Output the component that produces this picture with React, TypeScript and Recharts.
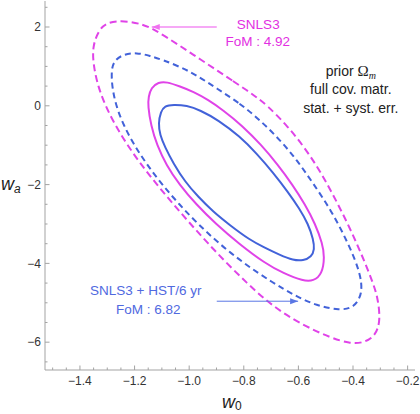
import React from 'react';
import { LineChart, Line, XAxis, YAxis, ReferenceDot } from 'recharts';

type P = { x: number; y: number };

// SNLS3 alone, outer (dashed) contour
const snlsOuter: P[] = [
  { x: -0.89, y: 0.86 }, { x: -0.84, y: 0.63 }, { x: -0.79, y: 0.4 }, { x: -0.752, y: 0.21 },
  { x: -0.716, y: 0.02 }, { x: -0.643, y: -0.49 }, { x: -0.584, y: -1.0 }, { x: -0.535, y: -1.5 },
  { x: -0.493, y: -2.0 }, { x: -0.455, y: -2.5 }, { x: -0.419, y: -3.0 }, { x: -0.386, y: -3.5 },
  { x: -0.355, y: -4.0 }, { x: -0.327, y: -4.5 }, { x: -0.31, y: -4.85 }, { x: -0.299, y: -5.44 },
  { x: -0.317, y: -5.84 }, { x: -0.362, y: -6.02 }, { x: -0.411, y: -6.04 }, { x: -0.484, y: -5.88 },
  { x: -0.57, y: -5.61 }, { x: -0.655, y: -5.27 }, { x: -0.727, y: -4.89 }, { x: -0.788, y: -4.5 },
  { x: -0.862, y: -4.0 }, { x: -0.93, y: -3.5 }, { x: -0.995, y: -3.0 }, { x: -1.058, y: -2.5 },
  { x: -1.118, y: -2.0 }, { x: -1.175, y: -1.5 }, { x: -1.226, y: -1.0 }, { x: -1.27, y: -0.5 },
  { x: -1.307, y: 0.0 }, { x: -1.334, y: 0.5 }, { x: -1.35, y: 1.0 }, { x: -1.355, y: 1.5 },
  { x: -1.33, y: 1.94 }, { x: -1.302, y: 2.1 }, { x: -1.266, y: 2.15 }, { x: -1.217, y: 2.14 },
  { x: -1.174, y: 2.07 }, { x: -1.137, y: 1.97 }, { x: -1.09, y: 1.77 }, { x: -1.04, y: 1.55 },
  { x: -0.99, y: 1.32 }, { x: -0.94, y: 1.09 },
];

// SNLS3 alone, inner (solid) contour
const snlsInner: P[] = [
  { x: -0.93, y: 0.15 }, { x: -0.878, y: -0.1 }, { x: -0.806, y: -0.5 }, { x: -0.735, y: -1.0 },
  { x: -0.675, y: -1.5 }, { x: -0.622, y: -2.0 }, { x: -0.576, y: -2.5 }, { x: -0.538, y: -3.0 },
  { x: -0.512, y: -3.5 }, { x: -0.504, y: -3.83 }, { x: -0.513, y: -4.27 }, { x: -0.545, y: -4.45 },
  { x: -0.582, y: -4.45 }, { x: -0.655, y: -4.25 }, { x: -0.722, y: -4.0 }, { x: -0.818, y: -3.5 },
  { x: -0.902, y: -3.0 }, { x: -0.975, y: -2.5 }, { x: -1.036, y: -2.0 }, { x: -1.084, y: -1.5 },
  { x: -1.118, y: -1.0 }, { x: -1.14, y: -0.5 }, { x: -1.151, y: 0.0 }, { x: -1.149, y: 0.23 },
  { x: -1.139, y: 0.46 }, { x: -1.113, y: 0.6 }, { x: -1.082, y: 0.61 }, { x: -1.034, y: 0.49 },
  { x: -0.985, y: 0.36 },
];

// SNLS3 + HST/6 yr, outer (dashed) contour
const hstOuter: P[] = [
  { x: -0.899, y: 0.44 }, { x: -0.814, y: 0.06 }, { x: -0.741, y: -0.36 }, { x: -0.667, y: -0.87 },
  { x: -0.605, y: -1.38 }, { x: -0.55, y: -1.93 }, { x: -0.481, y: -2.64 }, { x: -0.418, y: -3.48 },
  { x: -0.372, y: -4.25 }, { x: -0.365, y: -4.78 }, { x: -0.397, y: -5.13 }, { x: -0.448, y: -5.19 },
  { x: -0.533, y: -5.08 }, { x: -0.617, y: -4.8 }, { x: -0.692, y: -4.5 }, { x: -0.8, y: -4.0 },
  { x: -0.89, y: -3.5 }, { x: -0.968, y: -3.0 }, { x: -1.037, y: -2.5 }, { x: -1.099, y: -2.0 },
  { x: -1.154, y: -1.5 }, { x: -1.201, y: -1.0 }, { x: -1.24, y: -0.5 }, { x: -1.268, y: 0.0 },
  { x: -1.283, y: 0.5 }, { x: -1.285, y: 0.93 }, { x: -1.274, y: 1.15 }, { x: -1.241, y: 1.31 },
  { x: -1.192, y: 1.35 }, { x: -1.144, y: 1.27 }, { x: -1.095, y: 1.16 }, { x: -1.034, y: 0.99 },
  { x: -0.973, y: 0.78 },
];

// SNLS3 + HST/6 yr, inner (solid) contour
const hstInner: P[] = [
  { x: -0.96, y: -0.11 }, { x: -0.894, y: -0.36 }, { x: -0.814, y: -0.78 }, { x: -0.753, y: -1.21 },
  { x: -0.692, y: -1.7 }, { x: -0.637, y: -2.2 }, { x: -0.597, y: -2.6 }, { x: -0.564, y: -3.0 },
  { x: -0.545, y: -3.4 }, { x: -0.541, y: -3.65 }, { x: -0.552, y: -3.83 }, { x: -0.582, y: -3.93 },
  { x: -0.619, y: -3.92 }, { x: -0.667, y: -3.79 }, { x: -0.729, y: -3.58 }, { x: -0.777, y: -3.41 },
  { x: -0.851, y: -3.03 }, { x: -0.912, y: -2.69 }, { x: -0.967, y: -2.31 }, { x: -1.015, y: -1.93 },
  { x: -1.058, y: -1.46 }, { x: -1.089, y: -1.04 }, { x: -1.107, y: -0.74 }, { x: -1.113, y: -0.44 },
  { x: -1.104, y: -0.15 }, { x: -1.09, y: 0.0 }, { x: -1.058, y: 0.03 }, { x: -1.009, y: 0.01 },
];

const snlsArrow: P[] = [{ x: -1.137, y: 2.0 }, { x: -0.899, y: 2.0 }];
const hstArrow: P[] = [{ x: -0.899, y: -4.96 }, { x: -0.601, y: -4.96 }];

const xTicks = [
  -1.5, -1.45, -1.4, -1.35, -1.3, -1.25, -1.2, -1.15, -1.1, -1.05, -1.0, -0.95, -0.9, -0.85,
  -0.8, -0.75, -0.7, -0.65, -0.6, -0.55, -0.5, -0.45, -0.4, -0.35, -0.3, -0.25, -0.2,
];
const xLabelTicks = [-1.4, -1.2, -1.0, -0.8, -0.6, -0.4, -0.2];
const yTicks = [-6.5, -6, -5.5, -5, -4.5, -4, -3.5, -3, -2.5, -2, -1.5, -1, -0.5, 0, 0.5, 1, 1.5, 2, 2.5];
const yLabelTicks = [-6, -4, -2, 0, 2];

const snlsLabel = ['SNLS3', 'FoM : 4.92'];
const snlsLabelPos: P[] = [{ x: -0.747, y: 2.081 }, { x: -0.749, y: 1.645 }];
const hstLabel = ['SNLS3 + HST/6 yr', 'FoM : 6.82'];
const hstLabelPos: P[] = [{ x: -1.159, y: -4.67 }, { x: -1.15, y: -5.157 }];
const noteLines = ['full cov. matr.', 'stat. + syst. err.'];
const notePos: P[] = [{ x: -0.408, y: 0.883 }, { x: -0.408, y: 0.439 }, { x: -0.408, y: -0.043 }];

const FONT = '"Liberation Sans", Arial, Helvetica, sans-serif';
const MAGENTA = '#e043e8';
const BLUE = '#4262d9';
const MAGENTA_TEXT = '#e22fe2';
const BLUE_TEXT = '#5069df';
const AXIS = '#a3a3a3';
const LABEL = '#333333';

const near = (v: number, arr: number[]) => arr.some((a) => Math.abs(a - v) < 1e-6);
const fmt = (v: number, d: number) => (v < -1e-9 ? '\u2212' : '') + Math.abs(v).toFixed(d);

const BottomTick = (props: any) => {
  const { x, y, payload } = props;
  const major = near(payload.value, xLabelTicks);
  return (
    <g>
      <line x1={x} x2={x} y1={y} y2={y - (major ? 4.5 : 2.5)} stroke={AXIS} />
      {major && (
        <text x={x} y={y + 14.5} textAnchor="middle" fontSize={12} fill={LABEL} fontFamily={FONT}>
          {fmt(payload.value, 1)}
        </text>
      )}
    </g>
  );
};
const TopTick = (props: any) => {
  const { x, y, payload } = props;
  const major = near(payload.value, xLabelTicks);
  return <line x1={x} x2={x} y1={y} y2={y + (major ? 4.5 : 2.5)} stroke={AXIS} />;
};
const LeftTick = (props: any) => {
  const { x, y, payload } = props;
  const major = near(payload.value, yLabelTicks);
  return (
    <g>
      <line x1={x} x2={x + (major ? 4.5 : 2.5)} y1={y} y2={y} stroke={AXIS} />
      {major && (
        <text x={x - 4} y={y + 4.3} textAnchor="end" fontSize={12} fill={LABEL} fontFamily={FONT}>
          {fmt(payload.value, 0)}
        </text>
      )}
    </g>
  );
};
const RightTick = (props: any) => {
  const { x, y, payload } = props;
  const major = near(payload.value, yLabelTicks);
  return <line x1={x} x2={x - (major ? 4.5 : 2.5)} y1={y} y2={y} stroke={AXIS} />;
};

const XLabel = (props: any) => {
  const vb = props.viewBox || {};
  const cx = vb.x + vb.width / 2;
  return (
    <text x={cx - 8} y={vb.y + 37.5} fontFamily={FONT} fill="#222">
      <tspan fontSize={18} fontStyle="italic">w</tspan>
      <tspan fontSize={12} dy={2}>0</tspan>
    </text>
  );
};
const YLabel = (props: any) => {
  const vb = props.viewBox || {};
  const cy = vb.y + vb.height / 2;
  return (
    <text x={vb.x + 1} y={cy + 4} fontFamily={FONT} fill="#222">
      <tspan fontSize={18} fontStyle="italic">w</tspan>
      <tspan fontSize={12} fontStyle="italic" dy={3}>a</tspan>
    </text>
  );
};

const textShape = (content: React.ReactNode, color: string, size: number) => (p: any) => (
  <text x={p.cx} y={p.cy} dy="0.36em" textAnchor="middle" fontSize={size} fill={color} fontFamily={FONT}>
    {content}
  </text>
);

const arrowDot = (tipIndex: number, dir: number, color: string) => (p: any) => {
  if (p.index !== tipIndex) return <g key={`d${p.index}`} />;
  const { cx, cy } = p;
  const pts = `${cx},${cy} ${cx - dir * 8},${cy - 3} ${cx - dir * 8},${cy + 3}`;
  return <polygon key={`d${p.index}`} points={pts} fill={color} stroke="none" />;
};

export default function App() {
  return (
    <div style={{ position: 'absolute', left: 0, top: 0, width: 420, height: 414, background: '#fff' }}>
      <LineChart width={420} height={414} margin={{ top: 1, right: 5, bottom: 0, left: 0 }}>
        <XAxis
          xAxisId="b"
          type="number"
          dataKey="x"
          domain={[-1.528, -0.173]}
          allowDataOverflow
          ticks={xTicks}
          interval={0}
          tickSize={0}
          tickMargin={0}
          tickLine={false}
          tick={<BottomTick />}
          axisLine={{ stroke: AXIS }}
          height={44}
          label={<XLabel />}
        />
        <XAxis
          xAxisId="t"
          orientation="top"
          type="number"
          dataKey="x"
          domain={[-1.528, -0.173]}
          allowDataOverflow
          ticks={xTicks}
          interval={0}
          tickSize={0}
          tickMargin={0}
          tickLine={false}
          tick={<TopTick />}
          axisLine={{ stroke: AXIS }}
          height={0}
        />
        <YAxis
          yAxisId="l"
          type="number"
          dataKey="y"
          domain={[-6.706, 2.66]}
          allowDataOverflow
          ticks={yTicks}
          interval={0}
          tickSize={0}
          tickMargin={0}
          tickLine={false}
          tick={<LeftTick />}
          axisLine={{ stroke: AXIS }}
          width={45}
          label={<YLabel />}
        />
        <YAxis
          yAxisId="r"
          orientation="right"
          type="number"
          dataKey="y"
          domain={[-6.706, 2.66]}
          allowDataOverflow
          ticks={yTicks}
          interval={0}
          tickSize={0}
          tickMargin={0}
          tickLine={false}
          tick={<RightTick />}
          axisLine={{ stroke: AXIS }}
          width={0}
        />
        <Line xAxisId="b" yAxisId="l" data={snlsOuter} dataKey="y" type="basisClosed" stroke={MAGENTA} strokeWidth={2} strokeDasharray="7 4" dot={false} activeDot={false} isAnimationActive={false} />
        <Line xAxisId="b" yAxisId="l" data={hstOuter} dataKey="y" type="basisClosed" stroke={BLUE} strokeWidth={2} strokeDasharray="6 4" dot={false} activeDot={false} isAnimationActive={false} />
        <Line xAxisId="b" yAxisId="l" data={snlsInner} dataKey="y" type="basisClosed" stroke={MAGENTA} strokeWidth={2} dot={false} activeDot={false} isAnimationActive={false} />
        <Line xAxisId="b" yAxisId="l" data={hstInner} dataKey="y" type="basisClosed" stroke={BLUE} strokeWidth={2} dot={false} activeDot={false} isAnimationActive={false} />
        <Line xAxisId="b" yAxisId="l" data={snlsArrow} dataKey="y" type="linear" stroke="#f38cf3" strokeWidth={1.3} dot={arrowDot(0, -1, '#f070f0')} activeDot={false} isAnimationActive={false} />
        <Line xAxisId="b" yAxisId="l" data={hstArrow} dataKey="y" type="linear" stroke="#5a76e4" strokeWidth={1} dot={arrowDot(1, 1, '#5a76e4')} activeDot={false} isAnimationActive={false} />
        {snlsLabel.map((t, i) => (
          <ReferenceDot key={`s${i}`} xAxisId="b" yAxisId="l" x={snlsLabelPos[i].x} y={snlsLabelPos[i].y} r={0} shape={textShape(t, MAGENTA_TEXT, 13.5)} />
        ))}
        {hstLabel.map((t, i) => (
          <ReferenceDot key={`h${i}`} xAxisId="b" yAxisId="l" x={hstLabelPos[i].x} y={hstLabelPos[i].y} r={0} shape={textShape(t, BLUE_TEXT, 13.5)} />
        ))}
        <ReferenceDot
          xAxisId="b"
          yAxisId="l"
          x={notePos[0].x}
          y={notePos[0].y}
          r={0}
          shape={textShape(
            <>
              {'prior '}
              <tspan fontFamily='"Liberation Serif", "Times New Roman", serif' fontSize={15}>{'\u03A9'}</tspan>
              <tspan fontFamily='"Liberation Serif", "Times New Roman", serif' fontStyle="italic" fontSize={10} dy={3}>m</tspan>
            </>,
            '#222',
            14
          )}
        />
        {noteLines.map((t, i) => (
          <ReferenceDot key={`n${i}`} xAxisId="b" yAxisId="l" x={notePos[i + 1].x} y={notePos[i + 1].y} r={0} shape={textShape(t, '#222', 14)} />
        ))}
      </LineChart>
    </div>
  );
}
